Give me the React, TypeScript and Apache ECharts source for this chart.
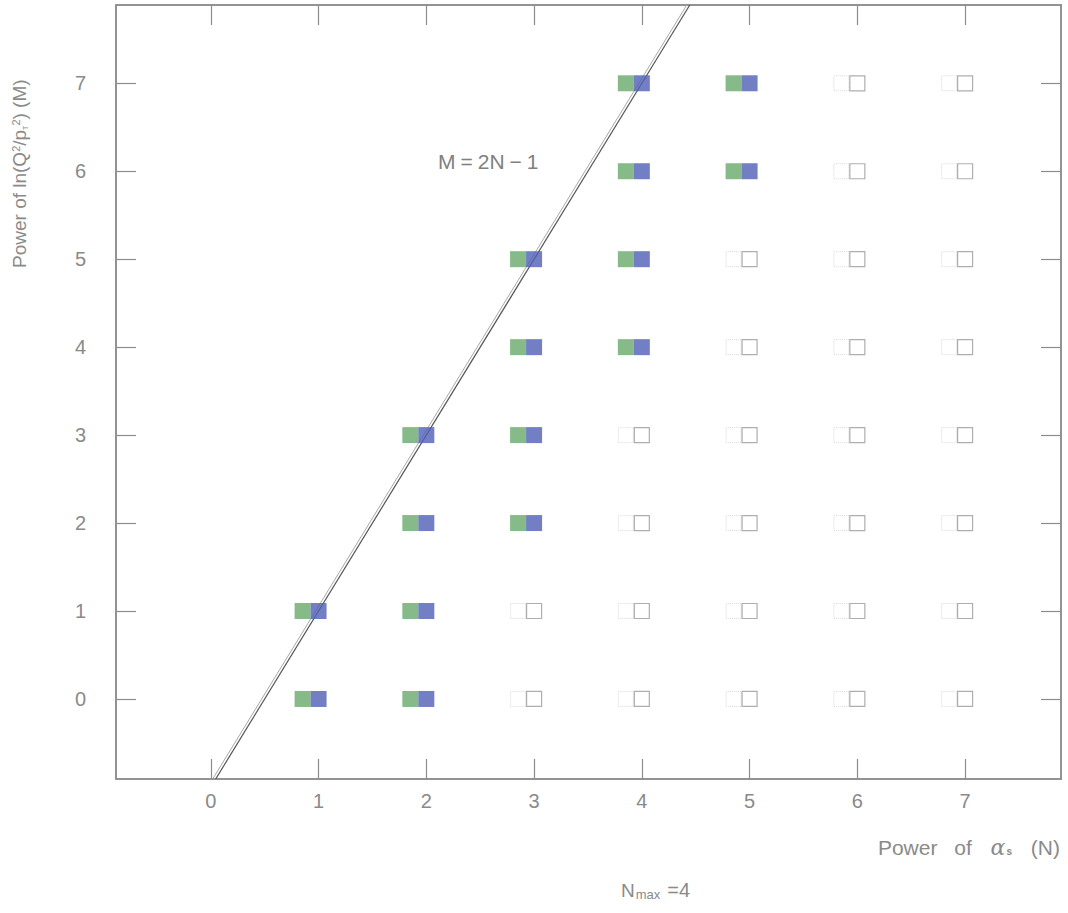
import React, { useEffect, useRef } from "react";
import * as echarts from "echarts";

// Categories / ticks
const nTicks = [0, 1, 2, 3, 4, 5, 6, 7];
const mTicks = [0, 1, 2, 3, 4, 5, 6, 7];
const xRange = [-0.88, 7.89];
const yRange = [-0.91, 7.89];

// Filled (computed) terms: [N, M]
const filledPoints: number[][] = [
  [1, 0], [1, 1],
  [2, 0], [2, 1], [2, 2], [2, 3],
  [3, 2], [3, 3], [3, 4], [3, 5],
  [4, 4], [4, 5], [4, 6], [4, 7],
  [5, 6], [5, 7],
];

// Empty (not computed) terms: [N, M]
const emptyPoints: number[][] = [
  [3, 0], [3, 1],
  [4, 0], [4, 1], [4, 2], [4, 3],
  [5, 0], [5, 1], [5, 2], [5, 3], [5, 4], [5, 5],
  [6, 0], [6, 1], [6, 2], [6, 3], [6, 4], [6, 5], [6, 6], [6, 7],
  [7, 0], [7, 1], [7, 2], [7, 3], [7, 4], [7, 5], [7, 6], [7, 7],
];

// Boundary line M = 2N - 1
const lineSlope = 2;
const lineIntercept = -1;
const lineN = (m: number) => (m - lineIntercept) / lineSlope;
const boundaryLine = [
  [lineN(yRange[0]), yRange[0]],
  [lineN(yRange[1]), yRange[1]],
];
const boundaryLineShifted = boundaryLine.map(([x, y]) => [x - 0.028, y]);

const FONT = "Liberation Sans";
const TXT = "#8a8a8a";
const AX = "#8c8c8c";

export default function App() {
  const ref = useRef<HTMLDivElement>(null);
  useEffect(() => {
    if (!ref.current) return;
    const chart = echarts.init(ref.current, undefined, { renderer: "svg" });
    const axisCommon = {
      type: "value" as const,
      interval: 1,
      splitLine: { show: false },
      axisLine: { show: true, onZero: false, lineStyle: { color: AX, width: 1.5 } },
      axisTick: { show: true, inside: true, length: 20, lineStyle: { color: AX, width: 1.2 } },
    };
    chart.setOption({
      animation: false,
      backgroundColor: "#ffffff",
      grid: { left: 116, right: 7, top: 5, bottom: 134, show: true, borderColor: AX, borderWidth: 1.5 },
      xAxis: [
        {
          ...axisCommon,
          min: xRange[0],
          max: xRange[1],
          axisTick: { ...axisCommon.axisTick, customValues: nTicks },
          axisLabel: { customValues: nTicks, color: TXT, fontFamily: FONT, fontSize: 20, margin: 12 },
        },
        {
          ...axisCommon,
          position: "top",
          min: xRange[0],
          max: xRange[1],
          axisTick: { ...axisCommon.axisTick, customValues: nTicks },
          axisLabel: { show: false, customValues: nTicks },
        },
      ],
      yAxis: [
        {
          ...axisCommon,
          min: yRange[0],
          max: yRange[1],
          axisTick: { ...axisCommon.axisTick, customValues: mTicks },
          axisLabel: { customValues: mTicks, color: TXT, fontFamily: FONT, fontSize: 20, margin: 30 },
        },
        {
          ...axisCommon,
          position: "right",
          min: yRange[0],
          max: yRange[1],
          axisTick: { ...axisCommon.axisTick, customValues: mTicks },
          axisLabel: { show: false, customValues: mTicks },
        },
      ],
      series: [
        {
          type: "line",
          data: boundaryLineShifted,
          symbol: "none",
          clip: true,
          lineStyle: { color: "#a8a8a8", width: 1 },
          z: 1,
        },
        {
          type: "line",
          data: boundaryLine,
          symbol: "none",
          clip: true,
          lineStyle: { color: "#555555", width: 1.2 },
          z: 1,
        },
        {
          type: "scatter",
          data: emptyPoints,
          symbol: "rect",
          symbolSize: 15,
          symbolOffset: [-16, 0],
          itemStyle: { color: "rgba(0,0,0,0)", borderColor: "#cfcfcf", borderWidth: 1, borderType: "dotted" },
          z: 2,
        },
        {
          type: "scatter",
          data: emptyPoints,
          symbol: "rect",
          symbolSize: 15,
          itemStyle: { color: "rgba(0,0,0,0)", borderColor: "#9a9a9a", borderWidth: 1.2 },
          z: 2,
        },
        {
          type: "scatter",
          data: filledPoints,
          symbol: "rect",
          symbolSize: 16,
          symbolOffset: [-16, 0],
          itemStyle: { color: "#68aa6c" },
          z: 3,
        },
        {
          type: "scatter",
          data: filledPoints,
          symbol: "rect",
          symbolSize: 16,
          itemStyle: { color: "#4f5fb6" },
          z: 3,
        },
      ],
      graphic: [
        {
          type: "text",
          left: 438,
          top: 151,
          style: {
            text: "{t|M}{o|=}{t|2N}{o|\u2212}{t|1}",
            fill: "#808080",
            font: `21px "${FONT}"`,
            rich: {
              t: { fontSize: 21, fill: "#808080", fontFamily: FONT },
              o: { fontSize: 21, fill: "#808080", fontFamily: FONT, padding: [0, 5, 0, 5] },
            },
          },
        },
        {
          type: "text",
          x: 10,
          y: 268,
          rotation: Math.PI / 2,
          style: {
            text: "Power of ln(Q{sup|2}/p{sub|T}{sup|2}) (M)",
            fill: TXT,
            font: `19px "${FONT}"`,
            rich: {
              sup: { fontSize: 11, fill: TXT, verticalAlign: "top", padding: [0, 0, 8, 0], fontFamily: FONT },
              sub: { fontSize: 7, fill: TXT, verticalAlign: "bottom", padding: [6, 0, 0, 0], fontFamily: FONT },
            },
          },
        },
        {
          type: "text",
          right: 8,
          top: 836,
          style: {
            text: "{a|Power} {b|of} {g|\u03b1}{s|s} {c|(N)}",
            fill: TXT,
            font: `21px "${FONT}"`,
            rich: {
              a: { fontSize: 21, fill: TXT, fontFamily: FONT },
              b: { fontSize: 21, fill: TXT, fontFamily: FONT, padding: [0, 0, 0, 11] },
              g: { fontSize: 22, fill: TXT, fontFamily: "DejaVu Serif", fontStyle: "italic", padding: [0, 0, 0, 13] },
              s: { fontSize: 10, fill: TXT, fontWeight: "bold", fontFamily: FONT, padding: [9, 0, 0, 1] },
              c: { fontSize: 21, fill: TXT, fontFamily: FONT, padding: [0, 0, 0, 13] },
            },
          },
        },
        {
          type: "text",
          left: 621,
          top: 880,
          style: {
            text: "N{s|max}{e|=4}",
            fill: TXT,
            font: `19px "${FONT}"`,
            rich: {
              s: { fontSize: 13, fill: TXT, fontFamily: FONT, padding: [9, 5, 0, 1] },
              e: { fontSize: 20, fill: TXT, fontFamily: FONT, padding: [0, 0, 0, 2] },
            },
          },
        },
      ],
    });
    return () => chart.dispose();
  }, []);
  return (
    <div
      ref={ref}
      style={{ position: "fixed", left: 0, top: 0, width: 1068, height: 913, background: "#fff" }}
    />
  );
}
